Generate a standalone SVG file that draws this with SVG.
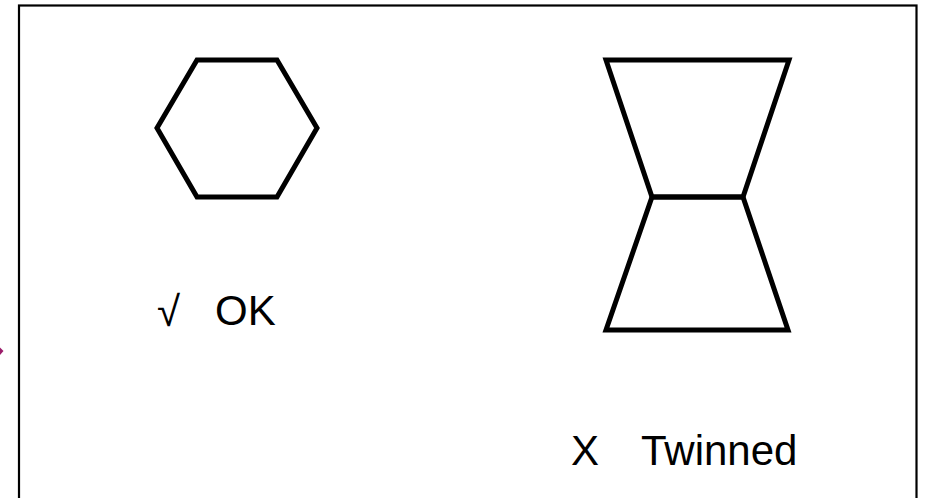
<svg xmlns="http://www.w3.org/2000/svg" width="925" height="498" viewBox="0 0 925 498">
<style>
.shape{fill:none;stroke:#000;stroke-width:5;stroke-linejoin:miter}
.lbl{font-family:"Liberation Sans",Arial,sans-serif;font-size:42px;fill:#000}
</style>
<rect x="0" y="0" width="925" height="498" fill="#fff"/>
<rect id="frame" x="19" y="5.5" width="897.5" height="500" fill="none" stroke="#000" stroke-width="2.2"/>
<polygon id="tip" points="0,347.5 3.5,351 0,355" fill="#9b1d6a"/>
<g id="hexagon">
<polygon class="shape" points="197,60 277,60 317,128 277,197 197,197 157,128"/>
</g>
<g id="bowtie">
<polygon class="shape" points="606,60 789,60 743,197 652,197"/>
<polygon class="shape" points="652,197 743,197 788,330 606,330"/>
</g>
<g id="ok-label">
<text class="lbl" x="157" y="326" font-size="46" font-family="Liberation Serif, serif">√</text>
<text class="lbl" x="215" y="325">OK</text>
</g>
<g id="twinned-label">
<text class="lbl" x="571" y="465">X</text>
<text class="lbl" x="641" y="465">Twinned</text>
</g>
</svg>
